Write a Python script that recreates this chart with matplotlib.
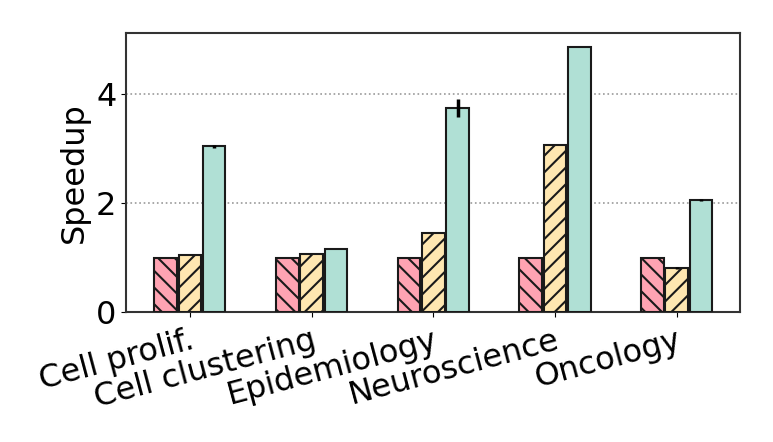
import matplotlib
matplotlib.use("Agg")
import matplotlib.pyplot as plt
import numpy as np

categories = ["Cell prolif.", "Cell clustering", "Epidemiology", "Neuroscience", "Oncology"]
series_a = [1.0, 1.0, 1.0, 1.0, 1.0]
series_b = [1.05, 1.06, 1.45, 3.06, 0.81]
series_c = [3.04, 1.15, 3.74, 4.87, 2.06]
err_a = [0, 0, 0, 0, 0]
err_b = [0.0, 0.0, 0.0, 0.0, 0.02]
err_c = [0.03, 0.0, 0.17, 0.0, 0.02]
yticks = [0, 2, 4]

colors = ["#FFA3B2", "#FFE7B1", "#B0E0D5"]
hatches = ["\\\\", "//", ""]

plt.rcParams['hatch.linewidth'] = 1.5
fig = plt.figure(figsize=(7.73, 4.42), dpi=100)
ax = fig.add_axes([126/773, 1-312/442, (740-126)/773, (312-33)/442])

x = np.arange(len(categories))
w = 0.185
off = 0.2
for i, (vals, errs) in enumerate([(series_a, err_a), (series_b, err_b), (series_c, err_c)]):
    ax.bar(x + (i-1)*off, vals, w, color=colors[i], edgecolor="#1a1a1a", linewidth=1.5,
           hatch=hatches[i], yerr=errs, error_kw=dict(elinewidth=2.5, capsize=0, ecolor="black"), zorder=3)

ax.set_xlim(-0.525, 4.52)
ax.set_ylim(0, 5.12)
ax.set_yticks(yticks)
ax.set_xticks(x)
ax.set_xticklabels(categories, rotation=15, ha="right", rotation_mode="anchor", fontsize=23)
ax.tick_params(axis='x', pad=6)
ax.tick_params(axis='y', labelsize=23)
ax.set_ylabel("Speedup", fontsize=23)
ax.yaxis.grid(True, linestyle=":", color="#999999", linewidth=1.2, zorder=0)
ax.set_axisbelow(True)
for s in ax.spines.values():
    s.set_color("#333333")
    s.set_linewidth(1.5)
fig.savefig("out.png", dpi=100)
